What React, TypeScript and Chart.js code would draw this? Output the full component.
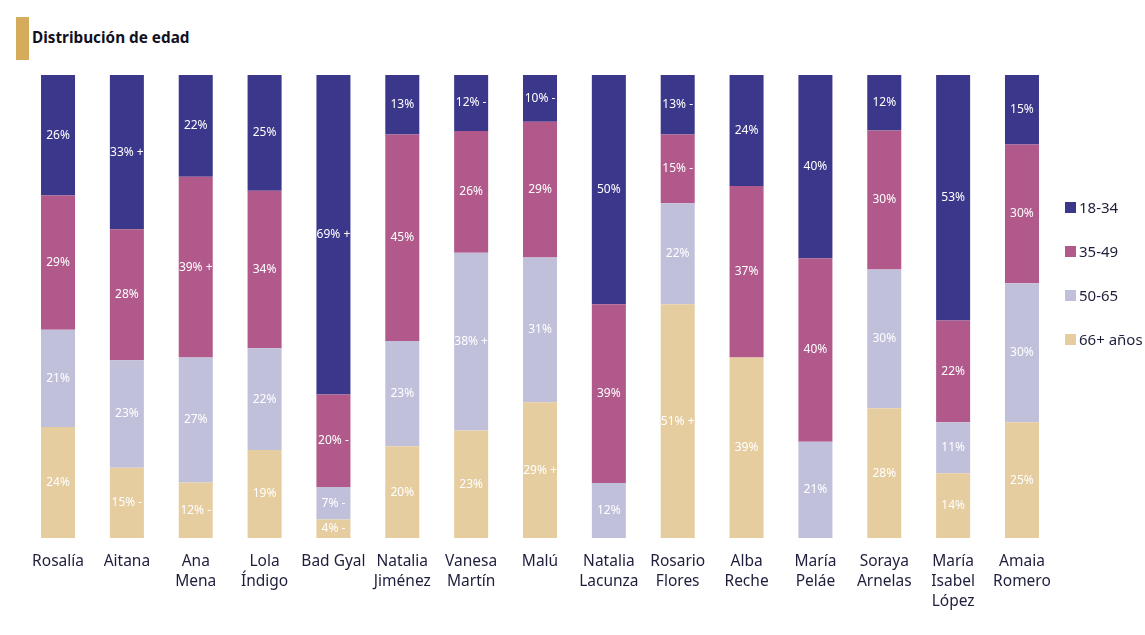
import React, { useEffect, useRef } from "react";
import { Chart, registerables } from "chart.js";

Chart.register(...registerables);

const categories: string[][] = [
  ["Rosalía"], ["Aitana"], ["Ana", "Mena"], ["Lola", "Índigo"], ["Bad Gyal"],
  ["Natalia", "Jiménez"], ["Vanesa", "Martín"], ["Malú"], ["Natalia", "Lacunza"],
  ["Rosario", "Flores"], ["Alba", "Reche"], ["María", "Peláe"], ["Soraya", "Arnelas"],
  ["María", "Isabel", "López"], ["Amaia", "Romero"],
];

const seriesNames = ["18-34", "35-49", "50-65", "66+ años"];
const seriesColors = ["#3B378B", "#B0598A", "#C0C0DB", "#E5CD9F"];

const v18_34 = [26, 33, 22, 25, 69, 13, 12, 10, 50, 13, 24, 40, 12, 53, 15];
const v35_49 = [29, 28, 39, 34, 20, 45, 26, 29, 39, 15, 37, 40, 30, 22, 30];
const v50_65 = [21, 23, 27, 22, 7, 23, 38, 31, 12, 22, 0, 21, 30, 11, 30];
const v66 = [24, 15, 12, 19, 4, 20, 23, 29, 0, 51, 39, 0, 28, 14, 25];

const m18_34 = ["", "+", "", "", "+", "", "-", "-", "", "-", "", "", "", "", ""];
const m35_49 = ["", "", "+", "", "-", "", "", "", "", "-", "", "", "", "", ""];
const m50_65 = ["", "", "", "", "-", "", "+", "", "", "", "", "", "", "", ""];
const m66 = ["", "-", "-", "", "-", "", "", "+", "", "+", "", "", "", "", ""];

const seriesValues = [v18_34, v35_49, v50_65, v66];
const seriesMarks = [m18_34, m35_49, m50_65, m66];

const FONT = "'Noto Sans', sans-serif";

const labelPlugin = {
  id: "segLabels",
  afterDatasetsDraw(chart: any) {
    const ctx = chart.ctx;
    ctx.save();
    ctx.font = `12px ${FONT}`;
    ctx.fillStyle = "#ffffff";
    ctx.textAlign = "center";
    ctx.textBaseline = "middle";
    chart.data.datasets.forEach((ds: any, di: number) => {
      const meta = chart.getDatasetMeta(di);
      meta.data.forEach((el: any, i: number) => {
        const raw = ds.rawValues[i];
        if (!raw) return;
        const mark = ds.marks[i];
        const text = `${raw}%` + (mark ? ` ${mark}` : "");
        ctx.fillText(text, el.x, (el.y + el.base) / 2);
      });
    });
    ctx.restore();
  },
};

export default function App() {
  const ref = useRef<HTMLCanvasElement>(null);

  useEffect(() => {
    document.body.style.margin = "0";
    const sums = categories.map((_, i) =>
      seriesValues.reduce((s, arr) => s + arr[i], 0)
    );
    // stack order: bottom first
    const order = [3, 2, 1, 0];
    const datasets = order.map((si) => ({
      label: seriesNames[si],
      data: seriesValues[si].map((v, i) => (v / sums[i]) * 100),
      rawValues: seriesValues[si],
      marks: seriesMarks[si],
      backgroundColor: seriesColors[si],
      borderWidth: 0,
      barPercentage: 0.494,
      categoryPercentage: 1,
    }));
    const chart = new Chart(ref.current!, {
      type: "bar",
      data: { labels: categories as any, datasets: datasets as any },
      options: {
        animation: false,
        responsive: false,
        maintainAspectRatio: false,
        layout: { padding: { left: 23.6, right: 88.6, top: 75, bottom: 0 } },
        plugins: {
          legend: { display: false },
          tooltip: { enabled: false },
          title: { display: false },
        },
        scales: {
          x: {
            stacked: true,
            grid: { display: false },
            border: { display: false },
            ticks: {
              color: "#1e1e3c",
              font: { family: FONT, size: 15.5, lineHeight: 1.29 },
              padding: 6,
              maxRotation: 0,
              autoSkip: false,
            },
            afterFit: (scale: any) => {
              scale.height = 97;
            },
          },
          y: { stacked: true, display: false, min: 0, max: 100 },
        },
      },
      plugins: [labelPlugin],
    });
    return () => chart.destroy();
  }, []);

  return (
    <div style={{ position: "relative", width: 1145, height: 635, background: "#fff", overflow: "hidden" }}>
      <div style={{ position: "absolute", left: 16, top: 17, width: 13, height: 43, background: "#D4AC5C" }} />
      <div
        style={{
          position: "absolute",
          left: 32,
          top: 27,
          fontFamily: FONT,
          fontWeight: 700,
          fontSize: 15.3,
          lineHeight: "20px",
          color: "#111122",
        }}
      >
        Distribución de edad
      </div>
      <canvas ref={ref} width={1145} height={635} style={{ position: "absolute", left: 0, top: 0 }} />
      <div style={{ position: "absolute", left: 1065, top: 196, fontFamily: FONT, fontSize: 15, color: "#1e1e3c" }}>
        {seriesNames.map((n, i) => (
          <div key={n} style={{ display: "flex", alignItems: "center", height: 22, marginBottom: i < 3 ? 22 : 0 }}>
            <span style={{ display: "inline-block", width: 11, height: 11, background: seriesColors[i], marginRight: 3 }} />
            <span>{n}</span>
          </div>
        ))}
      </div>
    </div>
  );
}
